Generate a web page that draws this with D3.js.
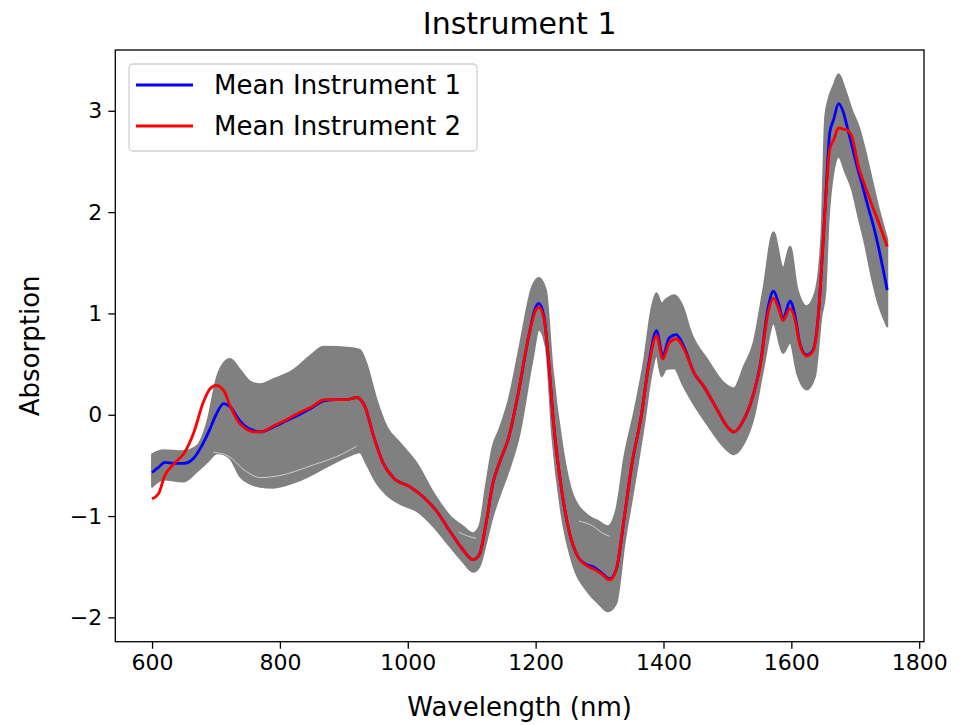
<!DOCTYPE html>
<html>
<head>
<meta charset="utf-8">
<script src="https://cdn.jsdelivr.net/npm/d3@7"></script>
<style>
  body { margin: 0; background: #fff; }
  svg text { font-family: "DejaVu Sans", sans-serif; fill: #000; }
</style>
</head>
<body>
<svg id="chart" width="961" height="725"></svg>
<script>
// mean spectra
const wlMean = [600, 610, 620, 635, 650, 665, 680, 690, 700, 712, 722, 735, 745, 760, 770, 790, 810, 830, 850, 870, 890, 905, 920, 933, 946, 961, 977, 1003, 1024, 1045, 1066, 1086, 1102, 1112, 1123, 1133, 1143, 1158, 1174, 1189, 1200, 1205, 1213, 1221, 1228, 1239, 1252, 1267, 1280, 1290, 1303, 1316, 1326, 1339, 1350, 1365, 1378, 1389, 1399, 1409, 1420, 1432, 1448, 1463, 1484, 1500, 1510, 1523, 1541, 1551, 1564, 1572, 1580, 1587, 1598, 1606, 1613, 1624, 1634, 1642, 1649, 1655, 1660, 1666, 1674, 1681, 1687, 1695, 1705, 1710, 1721, 1726, 1731, 1750];

const mean1 = [-0.57, -0.52, -0.47, -0.48, -0.48, -0.43, -0.28, -0.15, 0.0, 0.11, 0.08, -0.04, -0.11, -0.16, -0.17, -0.12, -0.06, 0.0, 0.07, 0.14, 0.15, 0.15, 0.17, 0.08, -0.2, -0.47, -0.62, -0.71, -0.81, -0.95, -1.15, -1.33, -1.43, -1.38, -1.05, -0.68, -0.48, -0.22, 0.25, 0.77, 1.06, 1.1, 0.97, 0.48, -0.08, -0.67, -1.14, -1.41, -1.48, -1.5, -1.56, -1.62, -1.53, -1.0, -0.51, -0.02, 0.54, 0.83, 0.58, 0.76, 0.79, 0.67, 0.41, 0.28, 0.05, -0.12, -0.17, -0.08, 0.21, 0.48, 1.07, 1.22, 1.1, 0.95, 1.12, 0.97, 0.71, 0.59, 0.64, 0.97, 1.63, 2.29, 2.78, 2.91, 3.07, 2.99, 2.85, 2.65, 2.4, 2.29, 2.03, 1.92, 1.8, 1.23];

const mean2 = [-0.83, -0.78, -0.6, -0.48, -0.38, -0.18, 0.12, 0.25, 0.29, 0.24, 0.09, -0.07, -0.13, -0.17, -0.17, -0.11, -0.05, 0.02, 0.08, 0.15, 0.15, 0.15, 0.17, 0.08, -0.2, -0.47, -0.62, -0.71, -0.81, -0.95, -1.15, -1.33, -1.43, -1.38, -1.05, -0.68, -0.48, -0.22, 0.25, 0.77, 1.03, 1.06, 0.95, 0.48, -0.08, -0.67, -1.14, -1.41, -1.49, -1.52, -1.57, -1.63, -1.53, -1.0, -0.51, -0.02, 0.52, 0.78, 0.55, 0.71, 0.75, 0.65, 0.41, 0.28, 0.05, -0.12, -0.17, -0.08, 0.21, 0.47, 1.02, 1.15, 1.05, 0.93, 1.05, 0.93, 0.7, 0.58, 0.63, 0.96, 1.63, 2.25, 2.62, 2.71, 2.83, 2.82, 2.81, 2.74, 2.45, 2.35, 2.16, 2.07, 1.99, 1.66];

// envelope of the individual (grey) spectra
const wlBand = [600, 618, 649, 670, 686, 702, 712, 722, 738, 753, 769, 790, 821, 847, 868, 910, 925, 935, 951, 967, 988, 1014, 1040, 1066, 1086, 1102, 1112, 1123, 1133, 1143, 1158, 1174, 1195, 1205, 1216, 1226, 1241, 1257, 1283, 1298, 1313, 1326, 1339, 1355, 1370, 1381, 1389, 1397, 1404, 1417, 1430, 1443, 1469, 1495, 1510, 1526, 1541, 1556, 1572, 1587, 1598, 1609, 1624, 1637, 1647, 1653, 1658, 1666, 1674, 1684, 1695, 1705, 1715, 1726, 1736, 1750];

const bandUpper = [-0.39, -0.35, -0.36, -0.31, -0.08, 0.38, 0.51, 0.55, 0.44, 0.33, 0.3, 0.35, 0.44, 0.58, 0.67, 0.66, 0.64, 0.51, 0.15, -0.12, -0.28, -0.48, -0.77, -1.0, -1.1, -1.17, -1.1, -0.67, -0.31, -0.15, 0.15, 0.64, 1.27, 1.35, 1.23, 0.48, -0.28, -0.77, -1.0, -1.05, -1.1, -0.94, -0.41, 0.05, 0.55, 1.04, 1.2, 1.1, 1.14, 1.18, 1.07, 0.81, 0.54, 0.31, 0.26, 0.48, 0.71, 1.23, 1.8, 1.45, 1.66, 1.25, 1.07, 1.2, 1.76, 2.94, 3.11, 3.25, 3.36, 3.21, 3.0, 2.85, 2.62, 2.32, 2.05, 1.73];

const bandLower = [-0.71, -0.64, -0.66, -0.56, -0.47, -0.38, -0.39, -0.43, -0.61, -0.68, -0.71, -0.72, -0.67, -0.6, -0.53, -0.4, -0.37, -0.48, -0.67, -0.79, -0.88, -0.95, -1.1, -1.3, -1.45, -1.55, -1.5, -1.25, -1.0, -0.81, -0.55, -0.21, 0.54, 0.84, 0.67, -0.21, -1.0, -1.45, -1.76, -1.86, -1.94, -1.86, -1.27, -0.67, -0.08, 0.4, 0.58, 0.38, 0.45, 0.46, 0.3, 0.15, -0.1, -0.32, -0.39, -0.28, -0.03, 0.45, 0.9, 0.61, 0.71, 0.41, 0.25, 0.38, 0.97, 1.2, 1.9, 2.4, 2.55, 2.4, 2.22, 1.95, 1.69, 1.35, 1.1, 0.87];

// thin light gaps visible between the grey spectra
const gaps = [
  [[696, -0.37], [720, -0.41], [745, -0.55], [770, -0.62], [800, -0.6], [850, -0.5], [900, -0.38], [920, -0.31]],
  [[1080, -1.16], [1095, -1.2], [1107, -1.22]],
  [[1268, -1.05], [1290, -1.1], [1305, -1.17], [1316, -1.2]]
];

const seriesNames = ["Mean Instrument 1", "Mean Instrument 2"];
const seriesColors = ["#0000ff", "#ff0000"];
const xTicks = [600, 800, 1000, 1200, 1400, 1600, 1800];
const yTicks = [-2, -1, 0, 1, 2, 3];

const svg = d3.select("#chart");
const margin = { left: 115.3, right: 961 - 924, top: 50, bottom: 725 - 641.7 };
const W = 961 - margin.left - margin.right;
const H = 725 - margin.top - margin.bottom;

const x = d3.scaleLinear().domain([542.5, 1807.5]).range([0, W]);
const y = d3.scaleLinear().domain([-2.24, 3.6]).range([H, 0]);

const g = svg.append("g").attr("transform", `translate(${margin.left},${margin.top})`);

svg.append("defs").append("clipPath").attr("id", "clip")
  .append("rect").attr("width", W).attr("height", H);

const plot = g.append("g").attr("clip-path", "url(#clip)");

const band = wlBand.map((w, i) => ({ w, hi: bandUpper[i], lo: bandLower[i] }));

const area = d3.area()
  .x((d) => x(d.w))
  .y0((d) => y(d.lo))
  .y1((d) => y(d.hi))
  .curve(d3.curveMonotoneX);

plot.append("path")
  .datum(band)
  .attr("d", area)
  .attr("fill", "#808080")
  .attr("stroke", "#808080")
  .attr("stroke-width", 2)
  .attr("stroke-linejoin", "round");

const line = d3.line()
  .x((d) => x(d[0]))
  .y((d) => y(d[1]))
  .curve(d3.curveMonotoneX);

plot.selectAll(".gap")
  .data(gaps)
  .join("path")
  .attr("class", "gap")
  .attr("d", line)
  .attr("fill", "none")
  .attr("stroke", "#ffffff")
  .attr("stroke-opacity", 0.6)
  .attr("stroke-width", 1);

const means = [mean1, mean2].map((vals) => wlMean.map((w, i) => [w, vals[i]]));

plot.selectAll(".mean")
  .data(means)
  .join("path")
  .attr("class", "mean")
  .attr("d", line)
  .attr("fill", "none")
  .attr("stroke", (d, i) => seriesColors[i])
  .attr("stroke-width", 2.8)
  .attr("stroke-linejoin", "round");

// axes
const xAxis = g.append("g")
  .attr("transform", `translate(0,${H})`)
  .call(d3.axisBottom(x).tickValues(xTicks).tickSize(7).tickPadding(6).tickFormat(d3.format("d")));

const yAxis = g.append("g")
  .call(d3.axisLeft(y).tickValues(yTicks).tickSize(7).tickPadding(6)
    .tickFormat((d) => (d < 0 ? "\u2212" + Math.abs(d) : d)));

[xAxis, yAxis].forEach((a) => {
  a.select(".domain").remove();
  a.selectAll("line").attr("stroke", "#000").attr("stroke-width", 1.3);
  a.selectAll("text").style("font-size", "22px").attr("fill", "#000");
});

g.append("rect")
  .attr("width", W)
  .attr("height", H)
  .attr("fill", "none")
  .attr("stroke", "#000")
  .attr("stroke-width", 1.3);

// labels
svg.append("text")
  .attr("x", margin.left + W / 2)
  .attr("y", 34)
  .attr("text-anchor", "middle")
  .style("font-size", "30px")
  .text("Instrument 1");

svg.append("text")
  .attr("x", margin.left + W / 2)
  .attr("y", 716)
  .attr("text-anchor", "middle")
  .style("font-size", "26px")
  .text("Wavelength (nm)");

svg.append("text")
  .attr("transform", `translate(39,${margin.top + H / 2}) rotate(-90)`)
  .attr("text-anchor", "middle")
  .style("font-size", "26px")
  .text("Absorption");

// legend
const legend = g.append("g").attr("transform", "translate(13.7,14)");

legend.append("rect")
  .attr("width", 348)
  .attr("height", 87)
  .attr("rx", 4)
  .attr("fill", "#fff")
  .attr("fill-opacity", 0.8)
  .attr("stroke", "#d0d0d0")
  .attr("stroke-width", 1.3);

const items = legend.selectAll(".item")
  .data(seriesNames)
  .join("g")
  .attr("class", "item")
  .attr("transform", (d, i) => `translate(0,${21 + i * 41})`);

items.append("line")
  .attr("x1", 7)
  .attr("x2", 64)
  .attr("stroke", (d, i) => seriesColors[i])
  .attr("stroke-width", 2.8);

items.append("text")
  .attr("x", 85)
  .attr("dy", "0.35em")
  .style("font-size", "26px")
  .text((d) => d);
</script>
</body>
</html>
